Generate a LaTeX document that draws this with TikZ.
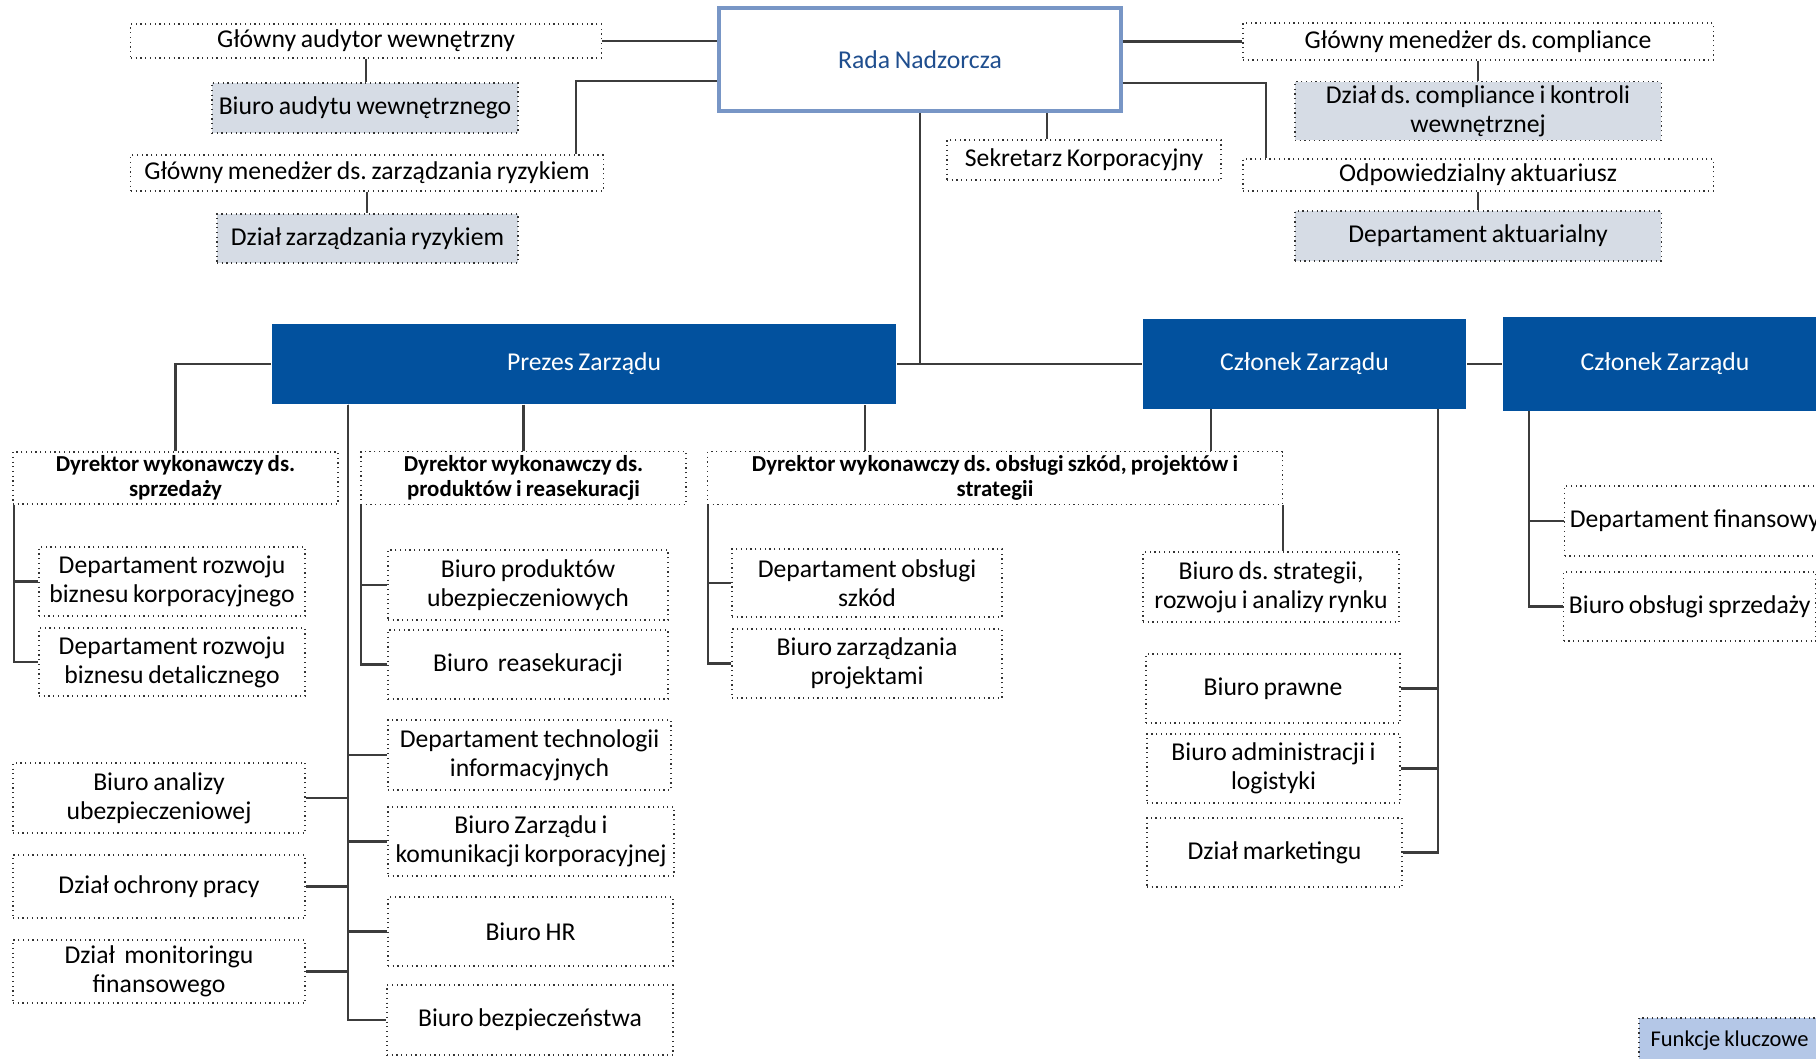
\documentclass[tikz,border=0pt]{standalone}
\usepackage{fontspec}
\setmainfont{Carlito}[WordSpace=0.8]
\frenchspacing
\usetikzlibrary{calc}
\definecolor{BoardBlue}{HTML}{02519E}
\definecolor{BoardEdge}{HTML}{7896C6}
\definecolor{BoardText}{HTML}{1F4E8E}
\definecolor{KeyGray}{HTML}{D6DCE5}
\definecolor{KeyBlue}{HTML}{B4C7E7}
\definecolor{LineGray}{HTML}{3C3C3C}

\begin{document}
\begin{tikzpicture}[x=0.01cm,y=-0.01cm,every node/.style={font=\fontsize{7.3}{8.25}\selectfont}]
    \tikzset{orgbox/.style={draw=black!80,densely dotted,line width=0.35pt,align=center,inner sep=1pt},
      keybox/.style={orgbox,fill=KeyGray},
      dirbox/.style={orgbox,font=\fontsize{6.5}{7.25}\selectfont\bfseries},
      boardbox/.style={fill=BoardBlue,text=white,inner sep=1pt},
      radabox/.style={draw=BoardEdge,line width=1pt,fill=white,text=BoardText},
      wire/.style={draw=LineGray,line width=0.6pt}}
    \useasboundingbox (0,0) rectangle (1816,1058);
    % rada i funkcje kluczowe
    \node[radabox,minimum width=4.02cm,minimum height=1.03cm] (rada) at (920,59.5) {Rada Nadzorcza};
    \node[orgbox,minimum width=4.7cm,minimum height=0.34cm] (gaw) at (366,41) {Główny audytor wewnętrzny};
    \node[keybox,minimum width=3.06cm,minimum height=0.5cm] (baw) at (365,108) {Biuro audytu wewnętrznego};
    \node[orgbox,minimum width=4.72cm,minimum height=0.36cm] (gmr) at (367,173) {Główny menedżer ds. zarządzania ryzykiem};
    \node[keybox,minimum width=3.01cm,minimum height=0.49cm] (dzr) at (367.5,238.5) {Dział zarządzania ryzykiem};
    \node[orgbox,minimum width=4.7cm,minimum height=0.37cm] (gmc) at (1478,41.5) {Główny menedżer ds. compliance};
    \node[keybox,minimum width=3.66cm,minimum height=0.58cm] (dck) at (1478,111) {Dział ds. compliance i kontroli\\wewnętrznej};
    \node[orgbox,minimum width=4.7cm,minimum height=0.32cm] (oa) at (1478,175) {Odpowiedzialny aktuariusz};
    \node[keybox,minimum width=3.66cm,minimum height=0.5cm] (da) at (1478,236) {Departament aktuarialny};
    \node[orgbox,minimum width=2.74cm,minimum height=0.4cm] (sk) at (1084,160) {Sekretarz Korporacyjny};
    % zarzad
    \node[boardbox,minimum width=6.24cm,minimum height=0.8cm] (prezes) at (584,364) {Prezes Zarządu};
    \node[boardbox,minimum width=3.23cm,minimum height=0.89cm] (czl1) at (1304.5,364) {Członek Zarządu};
    \node[boardbox,minimum width=3.24cm,minimum height=0.93cm] (czl2) at (1665,364) {Członek Zarządu};
    % dyrektorzy
    \node[dirbox,minimum width=3.25cm,minimum height=0.5cm] (dws) at (175.5,478) {Dyrektor wykonawczy ds.\\sprzedaży};
    \node[dirbox,minimum width=3.25cm,minimum height=0.5cm] (dwp) at (523.5,478) {Dyrektor wykonawczy ds.\\produktów i reasekuracji};
    \node[dirbox,minimum width=5.74cm,minimum height=0.5cm] (dwo) at (995,478) {Dyrektor wykonawczy ds. obsługi szkód, projektów i\\strategii};
    % jednostki
    \node[orgbox,minimum width=2.66cm,minimum height=0.69cm] (drk) at (172,581.5) {Departament rozwoju\\biznesu korporacyjnego};
    \node[orgbox,minimum width=2.66cm,minimum height=0.68cm] (drd) at (172,662) {Departament rozwoju\\biznesu detalicznego};
    \node[orgbox,minimum width=2.8cm,minimum height=0.7cm] (bpu) at (528,585) {Biuro produktów\\ubezpieczeniowych};
    \node[orgbox,minimum width=2.8cm,minimum height=0.69cm] (br) at (528,664.5) {Biuro\ \ reasekuracji};
    \node[orgbox,minimum width=2.7cm,minimum height=0.68cm] (dos) at (867,583) {Departament obsługi\\szkód};
    \node[orgbox,minimum width=2.7cm,minimum height=0.69cm] (bzp) at (867,663.5) {Biuro zarządzania\\projektami};
    \node[orgbox,minimum width=2.56cm,minimum height=0.7cm] (bsr) at (1271,587) {Biuro ds. strategii,\\rozwoju i analizy rynku};
    \node[orgbox,minimum width=2.54cm,minimum height=0.69cm] (bp) at (1273,688.5) {Biuro prawne};
    \node[orgbox,minimum width=2.53cm,minimum height=0.69cm] (bal) at (1273.5,768.5) {Biuro administracji i\\logistyki};
    \node[orgbox,minimum width=2.55cm,minimum height=0.69cm] (dm) at (1274.5,852.5) {Dział marketingu};
    \node[orgbox,anchor=west,inner xsep=1.5pt,minimum height=0.7cm] (df) at (1564,521) {Departament finansowy};
    \node[orgbox,anchor=west,inner xsep=1.5pt,minimum height=0.69cm] (bos) at (1563,606.5) {Biuro obsługi sprzedaży};
    \node[orgbox,minimum width=2.92cm,minimum height=0.7cm] (bau) at (159,798) {Biuro analizy\\ubezpieczeniowej};
    \node[orgbox,minimum width=2.92cm,minimum height=0.63cm] (dop) at (159,886.5) {Dział ochrony pracy};
    \node[orgbox,minimum width=2.92cm,minimum height=0.63cm] (dmf) at (159,971.5) {Dział\ \ monitoringu\\finansowego};
    \node[orgbox,minimum width=2.83cm,minimum height=0.7cm] (dti) at (529.5,755) {Departament technologii\\informacyjnych};
    \node[orgbox,minimum width=2.86cm,minimum height=0.69cm] (bzk) at (531,841.5) {Biuro Zarządu i\\komunikacji korporacyjnej};
    \node[orgbox,minimum width=2.85cm,minimum height=0.69cm] (bhr) at (530.5,931.5) {Biuro HR};
    \node[orgbox,minimum width=2.86cm,minimum height=0.7cm] (bb) at (530,1020) {Biuro bezpieczeństwa};
    \node[orgbox,fill=KeyBlue,minimum width=1.81cm,minimum height=0.46cm,font=\fontsize{6.4}{7.5}\selectfont] (key) at (1729.5,1041) {Funkcje kluczowe};
    % polaczenia
    \draw[wire] (gaw.east) -- (gaw.east -| rada.west);
    \draw[wire] ([yshift=-0.215cm]rada.west) -| ([xshift=-0.28cm]gmr.north east);
    \draw[wire] (gmc.west) -- (gmc.west -| rada.east);
    \draw[wire] ([yshift=-0.235cm]rada.east) -| ([xshift=0.24cm]oa.north west);
    \foreach \a/\b in {gaw/baw,gmr/dzr,gmc/dck,oa/da}{\draw[wire] (\a.south) -- (\a.south |- \b.north);}
    \draw[wire] ([xshift=-0.37cm]sk.north) -- ([xshift=-0.37cm]sk.north |- rada.south);
    \draw[wire] (rada.south) -- (rada.south |- czl1.west);
    \draw[wire] (prezes.east) -- (czl1.west);
    \draw[wire] (czl1.east) -- (czl2.west);
    \draw[wire] (prezes.west) -| (dws.north);
    \draw[wire] (prezes.south -| dwp.north) -- (dwp.north);
    \draw[wire] ([xshift=-1.3cm]dwo.north) -- ([xshift=-1.3cm]dwo.north |- prezes.south);
    \draw[wire] ([xshift=-0.935cm]czl1.south) -- ([xshift=-0.935cm]czl1.south |- dwo.north);
    \draw[wire] (dwo.south east) -- (dwo.south east |- bsr.north);
    \coordinate (ps) at ([xshift=0.77cm]prezes.south west);
    \foreach \n in {dti,bzk,bhr,bb}{\draw[wire] (ps) |- (\n.west);}
    \foreach \n in {bau,dop,dmf}{\draw[wire] (ps) |- (\n.east);}
    \coordinate (ss) at ([xshift=0.02cm]dws.south west);
    \foreach \n in {drk,drd}{\draw[wire] (ss) |- (\n.west);}
    \coordinate (sp) at ([xshift=0.01cm]dwp.south west);
    \foreach \n in {bpu,br}{\draw[wire] (sp) |- (\n.west);}
    \coordinate (so) at ([xshift=0.01cm]dwo.south west);
    \foreach \n in {dos,bzp}{\draw[wire] (so) |- (\n.west);}
    \coordinate (cs) at ([xshift=-0.29cm]czl1.south east);
    \foreach \n in {bp,bal,dm}{\draw[wire] (cs) |- (\n.east);}
    \coordinate (cf) at ([xshift=0.27cm]czl2.south west);
    \foreach \n in {df,bos}{\draw[wire] (cf) |- (\n.west);}
  \end{tikzpicture}
\end{document}
